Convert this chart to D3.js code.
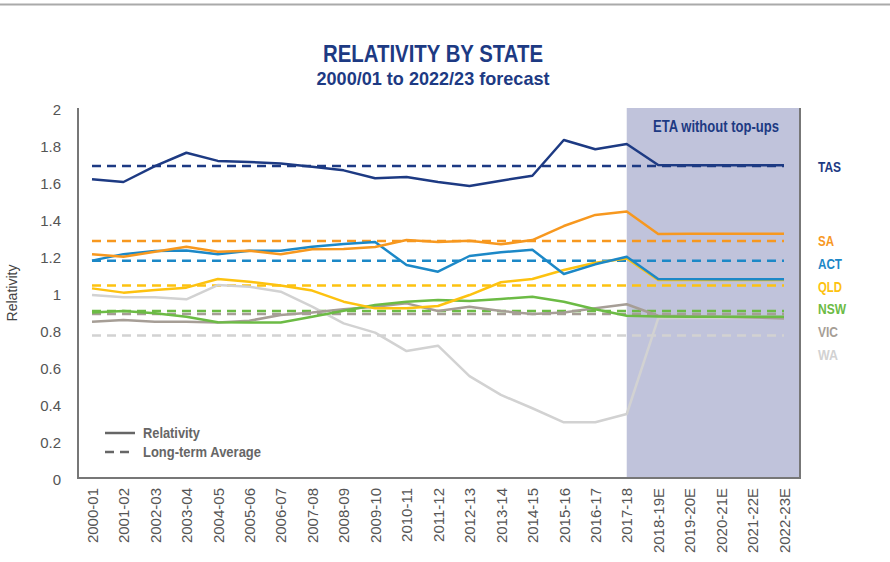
<!DOCTYPE html>
<html>
<head>
	<title>Relativity by State</title>
</head>
<style type="text/css">
	html, body {margin:0px; padding:0px; background:#fff;}
	svg {display:block;}
	.narrow {font-family:"Liberation Sans Narrow", "Arial Narrow", "Liberation Sans", sans-serif; font-weight:bold;}
</style>
<body>

	<svg width="890" height="562"></svg>

<script src="https://cdn.jsdelivr.net/npm/d3@7"></script>
<script type="text/javascript">

	// categories
	const years = ['2000-01','2001-02','2002-03','2003-04','2004-05','2005-06','2006-07','2007-08','2008-09','2009-10',
		'2010-11','2011-12','2012-13','2013-14','2014-15','2015-16','2016-17','2017-18','2018-19E','2019-20E',
		'2020-21E','2021-22E','2022-23E'];

	// relativity
	const tas = [1.615,1.60,1.686,1.758,1.714,1.708,1.70,1.683,1.663,1.62,1.627,1.60,1.578,1.607,1.634,1.827,1.777,1.805,1.692,1.69,1.69,1.69,1.69];
	const sa  = [1.21,1.196,1.223,1.25,1.223,1.229,1.209,1.236,1.238,1.249,1.286,1.276,1.283,1.263,1.286,1.362,1.422,1.44,1.319,1.32,1.32,1.32,1.32];
	const act = [1.175,1.21,1.227,1.23,1.21,1.229,1.229,1.25,1.265,1.276,1.151,1.115,1.20,1.22,1.234,1.103,1.155,1.196,1.076,1.075,1.075,1.075,1.075];
	const qld = [1.025,1.002,1.016,1.029,1.076,1.061,1.04,1.013,0.953,0.917,0.917,0.93,0.989,1.058,1.076,1.124,1.164,1.187,1.07,1.07,1.07,1.07,1.07];
	const nsw = [0.894,0.903,0.89,0.872,0.842,0.84,0.84,0.872,0.904,0.935,0.953,0.962,0.957,0.968,0.98,0.953,0.912,0.877,0.873,0.872,0.872,0.872,0.872];
	const vic = [0.845,0.854,0.845,0.845,0.84,0.85,0.881,0.894,0.912,0.926,0.944,0.903,0.926,0.903,0.886,0.894,0.917,0.939,0.877,0.874,0.871,0.868,0.862];
	const wa  = [0.989,0.977,0.977,0.966,1.043,1.034,1.007,0.926,0.836,0.786,0.686,0.715,0.551,0.449,0.377,0.301,0.301,0.346,0.863,0.865,0.865,0.865,0.865];

	// long-term averages
	const avgs = {TAS:1.686, SA:1.281, ACT:1.175, QLD:1.04, NSW:0.903, VIC:0.886, WA:0.77};

	const yTicks = [0,0.2,0.4,0.6,0.8,1,1.2,1.4,1.6,1.8,2];

	const states = [
		{name:'WA',  vals:wa,  col:'#d2d2d2', labY:354, w:20},
		{name:'VIC', vals:vic, col:'#a69e96', labY:331, w:20},
		{name:'NSW', vals:nsw, col:'#6cbb45', labY:308, w:28},
		{name:'QLD', vals:qld, col:'#fdc210', labY:286, w:24},
		{name:'ACT', vals:act, col:'#1c88c7', labY:263, w:24},
		{name:'SA',  vals:sa,  col:'#f7981f', labY:240, w:16},
		{name:'TAS', vals:tas, col:'#1d3a83', labY:166, w:23}
	];

	const svg = d3.select('svg');
	const pLeft = 78, pRight = 800, pTop = 108, pBottom = 478;

	const x = d3.scalePoint().domain(years).range([92, 784]);
	const y = d3.scaleLinear().domain([0, 2]).range([pBottom, pTop]);

	// condensed bold text: squeeze regular bold to the narrow widths of the original
	function narrowText(tx, ty, str, size, width, col, anchor) {
		return svg.append('text').attr('class', 'narrow').attr('x', tx).attr('y', ty)
			.attr('text-anchor', anchor || 'start').attr('fill', col).style('font-size', size + 'px')
			.attr('textLength', width).attr('lengthAdjust', 'spacingAndGlyphs')
			.text(str);
	}

	// top rule
	svg.append('line').attr('x1', 0).attr('x2', 890).attr('y1', 4.5).attr('y2', 4.5)
		.attr('stroke', '#aaa').attr('stroke-width', 2);

	// titles
	narrowText(433, 62, 'RELATIVITY BY STATE', 24, 220, '#1d3a83', 'middle');
	narrowText(433, 85, '2000/01 to 2022/23 forecast', 18.5, 233, '#1d3a83', 'middle');

	// forecast shading
	svg.append('rect').attr('x', x('2017-18')).attr('y', pTop)
		.attr('width', pRight - x('2017-18')).attr('height', pBottom - pTop)
		.attr('fill', '#c0c3db');
	narrowText(716, 132, 'ETA without top-ups', 16, 126, '#1d3a83', 'middle');

	// axes
	const yAxis = svg.append('g').attr('transform', 'translate(' + pLeft + ',0)')
		.call(d3.axisLeft(y).tickValues(yTicks).tickSize(0).tickPadding(17)
			.tickFormat(d => String(+d.toFixed(1))));
	yAxis.select('.domain').remove();
	yAxis.selectAll('text').style('font-family', '"Liberation Sans", Arial, sans-serif')
		.style('font-size', '15px').attr('fill', '#555').attr('dy', '0.45em');

	const xAxis = svg.append('g').attr('transform', 'translate(0,' + pBottom + ')')
		.call(d3.axisBottom(x).tickSize(0));
	xAxis.select('.domain').remove();
	xAxis.selectAll('text')
		.style('font-family', '"Liberation Sans", Arial, sans-serif').style('font-size', '15px')
		.attr('fill', '#555').attr('text-anchor', 'end')
		.attr('transform', 'translate(0,10) rotate(-90)')
		.attr('x', 0).attr('y', 0).attr('dy', '0.35em');

	svg.append('text').attr('transform', 'translate(17,293) rotate(-90)')
		.attr('text-anchor', 'middle').style('font-family', '"Liberation Sans", Arial, sans-serif')
		.style('font-size', '14px').attr('fill', '#444').text('Relativity');

	// frame
	svg.append('path').attr('d', 'M' + pLeft + ',' + pTop + 'V' + pBottom + 'H' + pRight + 'V' + pTop)
		.attr('fill', 'none').attr('stroke', '#777').attr('stroke-width', 2);

	// averages
	states.forEach(function(s) {
		svg.append('line')
			.attr('x1', x(years[0])).attr('x2', x(years[years.length - 1]))
			.attr('y1', y(avgs[s.name])).attr('y2', y(avgs[s.name]))
			.attr('stroke', s.col).attr('stroke-width', 2.5).attr('stroke-dasharray', '9,6');
	});

	// relativity lines
	const line = d3.line().x((d, i) => x(years[i])).y(d => y(d));
	states.forEach(function(s) {
		svg.append('path').datum(s.vals).attr('d', line)
			.attr('fill', 'none').attr('stroke', s.col).attr('stroke-width', 2.5)
			.attr('stroke-linejoin', 'round');
		narrowText(818, s.labY + 5.5, s.name, 15, s.w, s.col);
	});

	// legend
	const legend = [{label:'Relativity', dash:null, ly:433, w:57}, {label:'Long-term Average', dash:'9,6', ly:452, w:118}];
	legend.forEach(function(l) {
		svg.append('line').attr('x1', 105).attr('x2', 135).attr('y1', l.ly).attr('y2', l.ly)
			.attr('stroke', '#666').attr('stroke-width', 2.5).attr('stroke-dasharray', l.dash);
		narrowText(143, l.ly + 5, l.label, 14, l.w, '#666');
	});

</script>
</body>
</html>
